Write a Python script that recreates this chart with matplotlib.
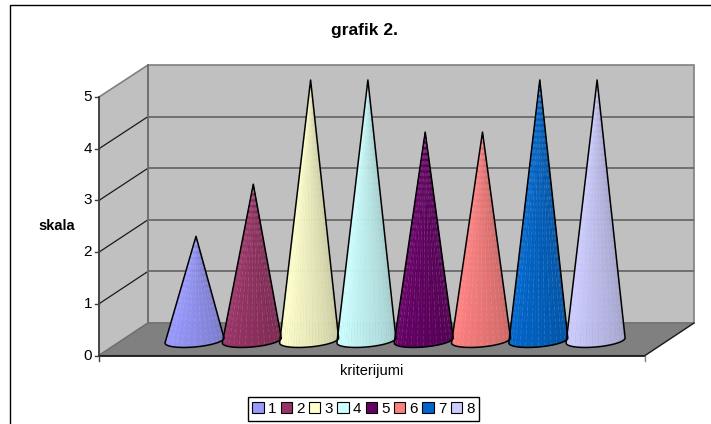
import numpy as np
import matplotlib
matplotlib.use("Agg")
import matplotlib.pyplot as plt
from matplotlib.colors import to_rgb
from matplotlib.patches import Polygon, Rectangle
from matplotlib.transforms import Affine2D

categories = ["1", "2", "3", "4", "5", "6", "7", "8"]
values = [2, 3, 5, 5, 4, 4, 5, 5]
colors = ["#9999ff", "#993366", "#ffffcc", "#ccffff", "#660066", "#ff8080", "#0066cc", "#ccccff"]
y_ticks = [0, 1, 2, 3, 4, 5]

W, H = 711, 424
plt.rcParams['font.family'] = ['Liberation Sans', 'DejaVu Sans']
fig = plt.figure(figsize=(W / 100, H / 100), dpi=100)
ax = fig.add_axes([0, 0, 1, 1])
ax.axis('off')

# data axes: category index on x, value on y, calibrated to the plot geometry
X1, DX = 196.0, 57.3
Y0, DY = 340.5, 52.1
ax.set_xlim((0 - X1) / DX + 1, (W - X1) / DX + 1)
ax.set_ylim((Y0 - H) / DY, Y0 / DY)
px = Affine2D().scale(1 / W, -1 / H).translate(0, 1) + fig.transFigure

# frame (runs off the right and bottom of the picture)
ax.add_patch(Rectangle((10, 5), 720, 440, transform=px, fc='white', ec='black', lw=1.0, clip_on=False))

# walls
FL, FB, FT = 99, 355.5, 97
BL, BR, BB, BT = 148, 694, 323, 65
FR = 645
ax.add_patch(Polygon([(BL, BT), (BR, BT), (BR, BB), (BL, BB)], transform=px, fc='#c0c0c0', ec='#808080', lw=1.2))
ax.add_patch(Polygon([(FL, FT), (BL, BT), (BL, BB), (FL, FB)], transform=px, fc='#c0c0c0', ec='#808080', lw=1.2))
ax.add_patch(Polygon([(FL, FB), (BL, BB), (BR, BB), (FR, FB)], transform=px, fc='#808080', ec='#707070', lw=1.0))

step_f = (FB - FT) / 5
step_b = (BB - BT) / 5
for t in y_ticks[1:-1]:
    yf = FB - t * step_f
    yb = BB - t * step_b
    ax.plot([BL, BR], [yb, yb], transform=px, color='#5a5a5a', lw=1.1, solid_capstyle='butt')
    ax.plot([FL, BL], [yf, yb], transform=px, color='#1a1a1a', lw=0.9)
ax.plot([FL, FL], [FT, FB], transform=px, color='#404040', lw=1.3)
ax.plot([BL, BL], [BT, BB], transform=px, color='#707070', lw=1.3)
ax.plot([FL, FR], [FB, FB], transform=px, color='#1a1a1a', lw=1.3)
ax.plot([FR, BR], [FB, BB], transform=px, color='#1a1a1a', lw=0.9)
ax.plot([FL, FL], [FB, FB + 5], transform=px, color='#404040', lw=1)
ax.plot([FR, FR], [FB, FB + 5], transform=px, color='#808080', lw=1)

for t in y_ticks:
    yf = FB - t * step_f
    ax.plot([FL - 4, FL], [yf, yf], transform=px, color='#404040', lw=1)
    ax.text(FL - 7, yf, str(t), transform=px, ha='right', va='center', fontsize=11, color='black')

# cones, in data coordinates
R = 29.5 / DX          # base half-width in category units
RY1, RY2 = 6.5 / DY, 2.5 / DY
N = 28
for i, (v, c) in enumerate(zip(values, colors)):
    xc = i + 1
    base = np.array(to_rgb(c))
    ang = np.linspace(np.pi, 0, N + 1)
    bx = xc - 1.5 / DX + R * np.cos(ang)
    by = -RY1 * np.sin(ang) + RY2 * np.cos(ang)
    for k in range(N):
        f = (k + 0.5) / N
        shade = 1.0 - 0.22 * max(0, f - 0.2) / 0.8
        col = np.clip(base * shade, 0, 1)
        ax.add_patch(Polygon([(xc, v), (bx[k], by[k]), (bx[k + 1], by[k + 1])], fc=col, ec=col, lw=0.3, zorder=3))
    # faint facet streaks
    for k in range(2, N, 2):
        ax.plot([xc, bx[k]], [v, by[k]], color='white', alpha=0.14, lw=0.6, ls=(0, (4, 3)), zorder=3.5)
    outline = list(zip(bx, by)) + [(xc, v)]
    ax.add_patch(Polygon(outline, closed=True, fc='none', ec='black', lw=1.1, joinstyle='round', zorder=4))

# text
ax.text(364.5, 30, "grafik 2.", transform=px, ha='center', va='center', fontsize=12.5, fontweight='bold')
ax.text(57, 226.5, "skala", transform=px, ha='center', va='center', fontsize=10.5, fontweight='bold')
ax.text(371.5, 371, "kriterijumi", transform=px, ha='center', va='center', fontsize=10.5)

# legend
handles = [Rectangle((0, 0), 1, 1, fc=c, ec='black', lw=0.8) for c in colors]
leg = ax.legend(handles, categories, ncol=8, loc='center', bbox_to_anchor=(363.5 / W, 1 - 409 / H),
                bbox_transform=fig.transFigure, fontsize=11, frameon=True, fancybox=False,
                edgecolor='black', framealpha=1, handlelength=0.75, handleheight=0.75,
                handletextpad=0.28, columnspacing=0.27, borderpad=0.3, borderaxespad=0)
leg.get_frame().set_linewidth(1.0)

fig.savefig("out.png", dpi=100)
